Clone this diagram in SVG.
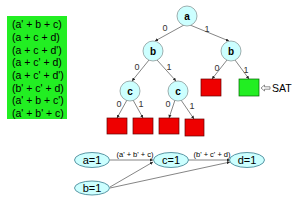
<svg xmlns="http://www.w3.org/2000/svg" width="300" height="202" viewBox="0 0 300 202">
<style>
.clause{font-family:"Liberation Sans",Arial,sans-serif;font-size:10.5px;fill:#000}
.node circle{fill:#ccffff;stroke:#8a9a9a;stroke-width:0.8}
.node text{font-family:"Liberation Sans",Arial,sans-serif;font-size:10px;font-weight:bold;text-anchor:middle;fill:#000}
.red{fill:#ee0000;stroke:#660000;stroke-width:0.7}
.grn{fill:#22ee22;stroke:#006600;stroke-width:0.7}
.edge{stroke:#666;stroke-width:0.8;fill:none;marker-end:url(#ah)}
.lbl{font-family:"Liberation Sans",Arial,sans-serif;font-size:9px;fill:#333;text-anchor:middle}
.ell ellipse{fill:#ccffff;stroke:#4a8a9a;stroke-width:0.9}
.ell text{font-family:"Liberation Sans",Arial,sans-serif;font-size:11px;text-anchor:middle;fill:#000}
.elbl{font-family:"Liberation Sans",Arial,sans-serif;font-size:7.5px;fill:#000;text-anchor:middle}
</style>
<defs>
<marker id="ah" viewBox="0 0 6 6" refX="6" refY="3" markerWidth="4" markerHeight="4" orient="auto">
<path d="M0,0 L6,3 L0,6 z" fill="#222"/>
</marker>
</defs>
<rect width="300" height="202" fill="#fff"/>
<g id="clauses">
<rect x="7" y="16" width="60" height="103" fill="#22ee22"/>
<text class="clause" x="12" y="28">(a' + b + c)</text>
<text class="clause" x="12" y="40.5">(a + c + d)</text>
<text class="clause" x="12" y="53.5">(a + c + d')</text>
<text class="clause" x="12" y="66">(a + c' + d)</text>
<text class="clause" x="12" y="79">(a + c' + d')</text>
<text class="clause" x="12" y="91.5">(b' + c' + d)</text>
<text class="clause" x="12" y="104">(a' + b + c')</text>
<text class="clause" x="12" y="117">(a' + b' + c)</text>
</g>
<g id="connectors">
<line class="edge" x1="184" y1="25" x2="155" y2="41"/>
<line class="edge" x1="190" y1="25" x2="229" y2="41"/>
<line class="edge" x1="149" y1="60" x2="132" y2="81"/>
<line class="edge" x1="157" y1="60" x2="176" y2="81"/>
<line class="edge" x1="227" y1="60" x2="212" y2="79"/>
<line class="edge" x1="235" y1="60" x2="249" y2="79"/>
<line class="edge" x1="127" y1="100" x2="117" y2="118"/>
<line class="edge" x1="133" y1="100" x2="143" y2="118"/>
<line class="edge" x1="175" y1="100" x2="169" y2="118"/>
<line class="edge" x1="181" y1="100" x2="194" y2="119"/>
<line class="edge" x1="110" y1="160" x2="153" y2="160"/>
<line class="edge" x1="110" y1="187" x2="153" y2="162"/>
<line class="edge" x1="110" y1="188" x2="230" y2="162"/>
<line class="edge" x1="188" y1="160" x2="230" y2="160"/>
<text class="lbl" x="165" y="31">0</text>
<text class="lbl" x="207" y="32">1</text>
<text class="lbl" x="137" y="70">0</text>
<text class="lbl" x="169" y="70">1</text>
<text class="lbl" x="217" y="71">0</text>
<text class="lbl" x="246" y="73">1</text>
<text class="lbl" x="119" y="107">0</text>
<text class="lbl" x="141" y="107">1</text>
<text class="lbl" x="168" y="107">0</text>
<text class="lbl" x="192" y="109">1</text>
<text class="elbl" x="135" y="157">(a' + b' + c)</text>
<text class="elbl" x="212" y="157">(b' + c' + d)</text>
</g>
<g id="a" class="node"><circle cx="187" cy="16" r="10"/><text x="187" y="20">a</text></g>
<g id="b0" class="node"><circle cx="153" cy="51" r="10"/><text x="153" y="55">b</text></g>
<g id="b1" class="node"><circle cx="231" cy="51" r="10"/><text x="231" y="55">b</text></g>
<g id="c0" class="node"><circle cx="130" cy="91" r="10"/><text x="130" y="95">c</text></g>
<g id="c1" class="node"><circle cx="178" cy="91" r="10"/><text x="178" y="95">c</text></g>
<g id="leaf10"><rect class="red" x="201" y="79" width="20" height="17"/></g>
<g id="leaf11"><rect class="grn" x="239" y="79" width="20" height="17"/></g>
<g id="leaf000"><rect class="red" x="107" y="118" width="20" height="16"/></g>
<g id="leaf001"><rect class="red" x="133" y="118" width="20" height="16"/></g>
<g id="leaf010"><rect class="red" x="159" y="118" width="20" height="16"/></g>
<g id="leaf011"><rect class="red" x="185" y="119" width="19" height="17"/></g>
<g id="sat">
<path d="M261,88 L264.5,85 L264.5,86.8 L270,86.8 L270,89.2 L264.5,89.2 L264.5,91 z" fill="#fff" stroke="#444" stroke-width="0.6"/>
<text x="272" y="92" font-family="Liberation Sans, Arial, sans-serif" font-size="10.5px" fill="#000">SAT</text>
</g>
<g id="na" class="ell"><ellipse cx="92" cy="160" rx="17.5" ry="7.5"/><text x="92" y="164">a=1</text></g>
<g id="nb" class="ell"><ellipse cx="92" cy="188" rx="17.5" ry="7"/><text x="92" y="192">b=1</text></g>
<g id="nc" class="ell"><ellipse cx="171" cy="160" rx="17.5" ry="7.5"/><text x="171" y="164">c=1</text></g>
<g id="nd" class="ell"><ellipse cx="247" cy="160" rx="17.5" ry="7.5"/><text x="247" y="164">d=1</text></g>
</svg>
